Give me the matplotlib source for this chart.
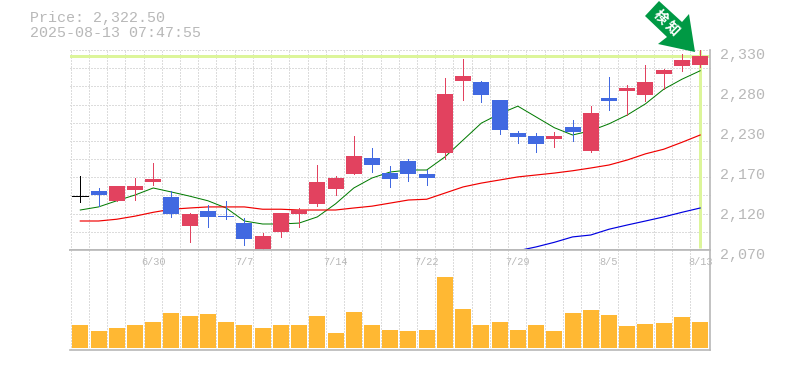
from matplotlib import pyplot as plt
from matplotlib.patches import Polygon
from matplotlib.transforms import ScaledTranslation
import numpy as np

plt.rcParams['font.family'] = ['Liberation Mono', 'DejaVu Sans Mono']

# daily prices
opens = [2140, 2147, 2134, 2148, 2158, 2139, 2101, 2121, 2114, 2105, 2071, 2093,
         2117, 2130, 2149, 2169, 2190, 2170, 2186, 2169, 2196, 2290, 2288, 2265,
         2222, 2218, 2214, 2230, 2199, 2268, 2277, 2271.5, 2299, 2309, 2310.5]
closes = [2140, 2142, 2153, 2153, 2162, 2117, 2117, 2113, 2113, 2084, 2088, 2118,
          2122, 2158, 2164, 2192, 2180.5, 2162, 2169, 2164, 2273, 2296, 2271.5, 2226,
          2217, 2208, 2218, 2223, 2248, 2264, 2281, 2288, 2304, 2317, 2322.5]
highs = [2166, 2151, 2153, 2164, 2183, 2147, 2118, 2128.5, 2134, 2112, 2092, 2118,
         2125, 2180.5, 2166, 2218, 2202.6, 2179, 2188, 2174, 2294, 2318, 2290, 2265,
         2225, 2222, 2223, 2239, 2257, 2295, 2284.5, 2310.5, 2305, 2325, 2330]
lows = [2132, 2127, 2134, 2135, 2154.5, 2113, 2080, 2100, 2110, 2076.5, 2069, 2087,
        2100, 2127, 2141.5, 2169, 2171, 2152, 2160, 2154.5, 2188, 2265, 2262, 2221,
        2209, 2197, 2204, 2212, 2197, 2252, 2245.5, 2264, 2279, 2303, 2308]
candle_kinds = ['k', 'b', 'r', 'r', 'r', 'b', 'r', 'b', 'b', 'b', 'r', 'r',
                'r', 'r', 'r', 'r', 'b', 'b', 'b', 'b', 'r', 'r', 'b', 'b',
                'b', 'b', 'r', 'b', 'r', 'b', 'r', 'r', 'r', 'r', 'r']

# moving averages
ma_short = [2122, 2126, 2134, 2141.5, 2150.6, 2145.4, 2140, 2134, 2124.6, 2107.7,
            2103.8, 2103.8, 2105, 2113, 2130, 2150.6, 2163.6, 2171.4, 2174, 2174,
            2191, 2213, 2235, 2247, 2257, 2243, 2229, 2219.5, 2225, 2234,
            2245.5, 2260, 2279, 2292, 2303]
ma_mid = [2107.7, 2107.7, 2110, 2114, 2119, 2123, 2124.6, 2126, 2126, 2126,
          2123, 2123, 2122, 2122, 2122, 2124.6, 2127, 2131, 2135, 2136,
          2144, 2152, 2157, 2161, 2165, 2167.5, 2170, 2173, 2176.6, 2180.5,
          2187, 2195, 2201, 2210, 2219.5]
ma_long = [2069, 2074, 2080, 2087, 2089.5, 2097, 2102.5, 2107.7, 2113, 2119, 2124.6]
ma_long_start = 24

volumes = [23, 17, 20, 23, 26, 35, 32, 34, 26, 23, 20, 23, 23, 32, 15, 36, 23, 18,
           17, 18, 71, 39, 23, 26, 18, 23, 17, 35, 38, 33, 22, 24, 25, 31, 26]

date_ticks = [4, 9, 14, 19, 24, 29, 34]
date_labels = ['6/30', '7/7', '7/14', '7/22', '7/29', '8/5', '8/13']
price_ticks = [2070, 2122, 2174, 2226, 2278, 2330]
price_labels = ['2,070', '2,120', '2,170', '2,230', '2,280', '2,330']
last_price = 2322.5

GREY = '#b8b8b8'
GRID = '#dcdcdc'
HILITE = '#dcf59a'
colors = {'r': '#e2425f', 'b': '#4169e1', 'k': '#000000'}
DASH = (0, (2.0, 2.0))

fig = plt.figure(figsize=(7.85, 3.7), dpi=100)
ax = fig.add_axes([70 / 785, 120 / 370, 640 / 785, 200 / 370])
ax_vol = fig.add_axes([70 / 785, 20 / 370, 640 / 785, 100 / 370])
x = np.arange(len(closes))
xlim = (-0.565, 34.54)

for a in (ax, ax_vol):
    a.set_xlim(xlim)
    a.set_xticks(x[1:] - 0.53)
    a.tick_params(axis='x', length=0, labelbottom=False)
    a.grid(True, axis='x', color=GRID, linewidth=0.72, linestyle=DASH, antialiased=False)
    a.set_axisbelow(True)
    a.spines['left'].set_visible(False)
    a.spines['top'].set_visible(False)
    a.spines['right'].set_color(GREY)
    a.spines['bottom'].set_color(GREY)
    a.spines['right'].set_linewidth(1.2)
    a.spines['bottom'].set_linewidth(1.2)

# price panel
ax.set_ylim(2070, 2330)
ax.set_yticks(price_ticks)
ax.set_yticklabels(price_labels, fontsize=10.8, color=GREY)
ax.yaxis.tick_right()
ax.tick_params(axis='y', length=0, pad=7)
shift = ScaledTranslation(0, -3 / 100, fig.dpi_scale_trans)
for lbl in ax.get_yticklabels():
    lbl.set_transform(lbl.get_transform() + shift)
for g in np.linspace(2070, 2330, 12)[1:]:
    ax.axhline(g, color=GRID, linewidth=0.72, linestyle=DASH, zorder=0.5, antialiased=False, clip_on=False)
ax.axvline(-0.53, color=GRID, linewidth=0.72, linestyle=DASH, zorder=0.5, antialiased=False)
ax_vol.axvline(-0.53, color=GRID, linewidth=0.72, linestyle=DASH, zorder=0.5, antialiased=False)

ax.axhline(last_price, color=HILITE, linewidth=2.16, zorder=1)
ax.plot([x[-1], x[-1]], [2072, 2330], color=HILITE, linewidth=2.16, zorder=1,
        solid_capstyle='butt')

ax.plot(x, ma_short, color='#007a00', linewidth=0.72, zorder=2)
ax.plot(x, ma_mid, color='#f00000', linewidth=0.85, zorder=2)
ax.plot(x[ma_long_start:], ma_long, color='#0000e0', linewidth=0.85, zorder=2, clip_on=False)

for i, kind in enumerate(candle_kinds):
    c = colors[kind]
    ax.vlines(i, lows[i], highs[i], color=c, linewidth=0.72, zorder=3, clip_on=False,
              antialiased=False)
    if opens[i] == closes[i]:
        ax.hlines(opens[i], i - 0.44, i + 0.44, color=c, linewidth=0.72, zorder=3,
                  antialiased=False)
    else:
        bottom = min(opens[i], closes[i])
        height = abs(opens[i] - closes[i])
        ax.bar(i, height, bottom=bottom, width=0.88, color=c, linewidth=0, zorder=4)

# volume panel
ax_vol.bar(x, volumes, width=0.88, color='#ffb833', linewidth=0, zorder=3)
ax_vol.set_ylim(-2, 98)
ax_vol.set_yticks([])
ax_vol.spines['top'].set_visible(True)
ax_vol.spines['top'].set_color(GREY)
ax_vol.spines['top'].set_linewidth(1.2)
for i, label in zip(date_ticks, date_labels):
    ax_vol.text(i, 0.88, label, transform=ax_vol.get_xaxis_transform(), ha='center',
                va='center', fontsize=7.4, color=GREY, clip_on=False, zorder=5)

# header text and arrow go on a pixel overlay
over = fig.add_axes([0, 0, 1, 1], facecolor='none')
over.set_xlim(0, 785)
over.set_ylim(370, 0)
over.axis('off')
over.text(30, 18, 'Price: 2,322.50', fontsize=10.8, color=GREY, va='center')
over.text(30, 33, '2025-08-13 07:47:55', fontsize=10.8, color=GREY, va='center')

arrow = [(659, 1), (645, 16), (667, 37), (658, 44), (695, 52), (689, 14), (682, 22)]
over.add_patch(Polygon(arrow, closed=True, facecolor='#009944', edgecolor='none', zorder=6))
over.text(660.5, 17.5, '検', fontsize=10, color='white', rotation=-45, ha='center', va='center',
          rotation_mode='anchor', family=['Noto Sans CJK JP'], weight='bold', zorder=7)
over.text(671.5, 29, '知', fontsize=10, color='white', rotation=-45, ha='center', va='center',
          rotation_mode='anchor', family=['Noto Sans CJK JP'], weight='bold', zorder=7)

fig.savefig('out.png', dpi=100)
